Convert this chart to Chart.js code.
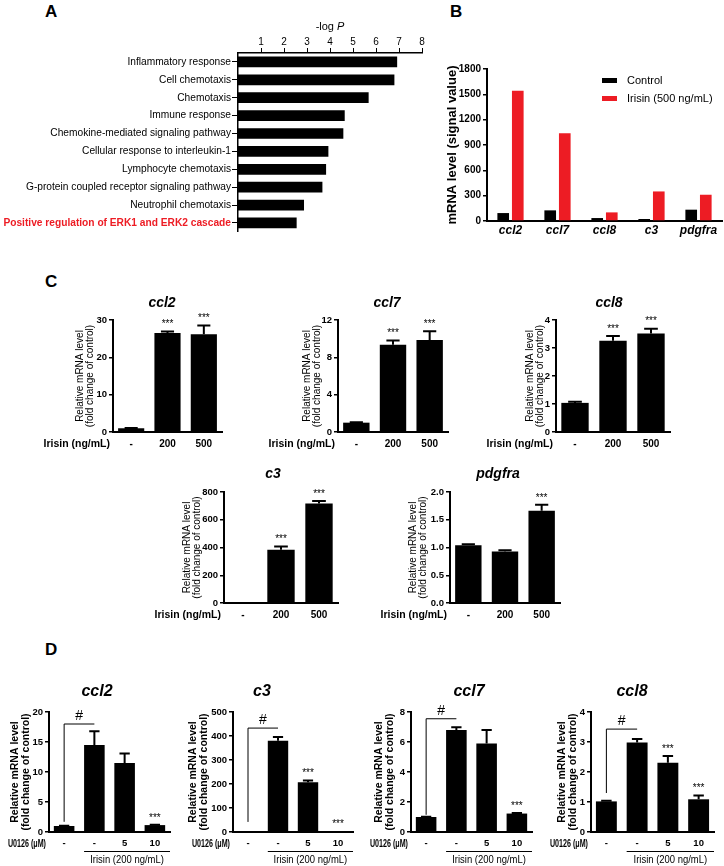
<!DOCTYPE html>
<html>
<head>
<meta charset="utf-8">
<script src="https://cdn.jsdelivr.net/npm/chart.js@4.4.1/dist/chart.umd.min.js"></script>
<style>
  html, body { margin: 0; padding: 0; background: #fff; }
  #fig { position: relative; width: 724px; height: 866px; overflow: hidden; font-family: "Liberation Sans", Arial, sans-serif; }
  #fig canvas { position: absolute; }
  .panel { position: absolute; font-weight: bold; font-size: 17px; line-height: 1; color: #000; }
</style>
</head>
<body>
<div id="fig">
  <div class="panel" style="left:45px;top:3px">A</div>
  <div class="panel" style="left:450px;top:3px">B</div>
  <div class="panel" style="left:45px;top:273px">C</div>
  <div class="panel" style="left:45px;top:641px">D</div>
</div>
<script>
// Panel A - enriched GO terms
const goTerms = [
  "Inflammatory response",
  "Cell chemotaxis",
  "Chemotaxis",
  "Immune response",
  "Chemokine-mediated signaling pathway",
  "Cellular response to interleukin-1",
  "Lymphocyte chemotaxis",
  "G-protein coupled receptor signaling pathway",
  "Neutrophil chemotaxis",
  "Positive regulation of ERK1 and ERK2 cascade"
];
const goLogP = [6.92, 6.8, 5.68, 4.64, 4.58, 3.93, 3.83, 3.67, 2.87, 2.55];

// Panel B - microarray signal
const arrayGenes = ["ccl2", "ccl7", "ccl8", "c3", "pdgfra"];
const signalControl = [94, 126, 35, 24, 134];
const signalIrisin = [1543, 1039, 102, 350, 311];

// Panel C - irisin dose
const doseLabels = ["-", "200", "500"];
const ccl2Dose = [1.0, 26.5, 26.2];
const ccl2DoseSem = [0.1, 0.4, 2.3];
const ccl7Dose = [1.0, 9.35, 9.85];
const ccl7DoseSem = [0.05, 0.45, 0.95];
const ccl8Dose = [1.04, 3.26, 3.52];
const ccl8DoseSem = [0.04, 0.17, 0.17];
const c3Dose = [3, 383, 718];
const c3DoseSem = [0, 24, 17];
const pdgfraDose = [1.04, 0.93, 1.66];
const pdgfraDoseSem = [0.02, 0.02, 0.11];
const doseSig = ["", "***", "***"];
const pdgfraDoseSig = ["", "", "***"];

// Panel D - U0126 inhibition
const u0126Labels = ["-", "-", "5", "10"];
const ccl2U = [1.0, 14.5, 11.5, 1.15];
const ccl2USem = [0.05, 2.3, 1.6, 0.05];
const c3U = [2, 380, 207, 3];
const c3USem = [0, 16, 8, 0];
const ccl7U = [1.0, 6.8, 5.9, 1.23];
const ccl7USem = [0.02, 0.18, 0.9, 0.04];
const ccl8U = [1.02, 2.98, 2.31, 1.09];
const ccl8USem = [0.02, 0.12, 0.22, 0.13];
const ccl2USig = ["", "", "", "***"];
const c3USig = ["", "", "***", "***"];
const ccl7USig = ["", "", "", "***"];
const ccl8USig = ["", "", "***", "***"];
const ccl2UBracket = [1.7, 18];
const c3UBracket = [42, 433];
const ccl7UBracket = [1.15, 7.55];
const ccl8UBracket = [1.3, 3.43];

const FONT = '"Liberation Sans", Arial, Helvetica, sans-serif';
const RED = "#ed1c24";
const fig = document.getElementById("fig");

// narrow labels: no condensed font installed, so squeeze horizontally
function squeezeText(ctx, text, x, y, sx) {
  ctx.save();
  ctx.translate(x, y);
  ctx.scale(sx, 1);
  ctx.fillText(text, 0, 0);
  ctx.restore();
}

// extra marks: titles, error bars, stars, brackets, row labels, legend
const figMarks = {
  id: "figMarks",
  afterDraw(chart, args, o) {
    const ctx = chart.ctx;
    const area = chart.chartArea;
    const ox = o.ox || 0;
    const oy = o.oy || 0;
    ctx.save();
    ctx.fillStyle = "#000";
    ctx.strokeStyle = "#000";

    if (o.title) {
      ctx.font = o.title.font;
      ctx.textAlign = "center";
      ctx.textBaseline = "middle";
      ctx.fillText(o.title.text, o.title.x - ox, o.title.y - oy);
    }

    if (o.logP) {
      ctx.textBaseline = "middle";
      ctx.textAlign = "left";
      ctx.font = `11px ${FONT}`;
      const w1 = ctx.measureText("-log ").width;
      ctx.font = `italic 11px ${FONT}`;
      const w2 = ctx.measureText("P").width;
      const x0 = o.logP.x - ox - (w1 + w2) / 2;
      ctx.font = `11px ${FONT}`;
      ctx.fillText("-log ", x0, o.logP.y - oy);
      ctx.font = `italic 11px ${FONT}`;
      ctx.fillText("P", x0 + w1, o.logP.y - oy);
    }

    if (o.legend) {
      ctx.font = `11px ${FONT}`;
      ctx.textAlign = "left";
      ctx.textBaseline = "middle";
      chart.data.datasets.forEach((ds, i) => {
        const y = o.legend.y + i * o.legend.dy - oy;
        ctx.fillStyle = ds.backgroundColor;
        ctx.fillRect(o.legend.x - ox, y - 2.5, 15, 5);
        ctx.fillStyle = "#000";
        ctx.fillText(ds.label, o.legend.x - ox + 25, y);
      });
    }

    const meta = chart.getDatasetMeta(0);
    const ys = chart.scales.y;
    const vals = chart.data.datasets[0].data;

    if (o.sem) {
      ctx.lineWidth = 2;
      o.sem.forEach((s, i) => {
        if (!s) return;
        const bar = meta.data[i];
        const top = ys.getPixelForValue(vals[i] + s);
        const half = bar.width * 0.25;
        ctx.beginPath();
        ctx.moveTo(bar.x, bar.y);
        ctx.lineTo(bar.x, top);
        ctx.moveTo(bar.x - half, top);
        ctx.lineTo(bar.x + half, top);
        ctx.stroke();
      });
    }

    if (o.sig) {
      ctx.font = `10px ${FONT}`;
      ctx.textAlign = "center";
      ctx.textBaseline = "bottom";
      o.sig.forEach((t, i) => {
        if (!t) return;
        const top = ys.getPixelForValue(vals[i] + ((o.sem && o.sem[i]) || 0));
        ctx.fillText(t, meta.data[i].x, top - 2);
      });
    }

    if (o.bracket) {
      const x0 = meta.data[0].x;
      const x1 = meta.data[1].x;
      const yb = ys.getPixelForValue(o.bracket[0]);
      const yt = ys.getPixelForValue(o.bracket[1]);
      ctx.lineWidth = 1;
      ctx.beginPath();
      ctx.moveTo(x0, yb);
      ctx.lineTo(x0, yt);
      ctx.lineTo(x1, yt);
      ctx.stroke();
      ctx.font = `14px ${FONT}`;
      ctx.textAlign = "center";
      ctx.textBaseline = "middle";
      ctx.fillText("#", (x0 + x1) / 2, yt - 8);
    }

    if (o.rowLabel) {
      ctx.font = o.rowLabel.font;
      ctx.textAlign = "right";
      ctx.textBaseline = "middle";
      squeezeText(ctx, o.rowLabel.text, area.left - 3, area.bottom + 12, o.rowLabel.sx || 1);
    }

    if (o.group) {
      const b1 = meta.data[1];
      const xa = b1.x - b1.width / 2;
      const xb = area.right;
      ctx.lineWidth = 1;
      ctx.beginPath();
      ctx.moveTo(xa, area.bottom + 19.5);
      ctx.lineTo(xb, area.bottom + 19.5);
      ctx.stroke();
      ctx.font = o.group.font;
      ctx.textAlign = "center";
      ctx.textBaseline = "middle";
      squeezeText(ctx, o.group.text, (xa + xb) / 2, area.bottom + 28, o.group.sx || 1);
    }
    ctx.restore();
  }
};
Chart.register(figMarks);

function addCanvas(left, top, w, h) {
  const cv = document.createElement("canvas");
  cv.width = w;
  cv.height = h;
  cv.style.left = left + "px";
  cv.style.top = top + "px";
  cv.style.width = w + "px";
  cv.style.height = h + "px";
  fig.appendChild(cv);
  return cv;
}

function barPanel(p) {
  const m = p.m;
  const left = p.area.l - m.l;
  const top = p.area.t - m.t;
  const w = p.area.r - p.area.l + m.l + m.r;
  const h = p.area.b - p.area.t + m.t + m.b;
  const yt = p.yTitle;
  const lhPx = yt.size * yt.lh;
  return new Chart(addCanvas(left, top, w, h), {
    type: "bar",
    data: { labels: p.labels, datasets: p.datasets },
    options: {
      responsive: false,
      animation: false,
      devicePixelRatio: 1,
      events: [],
      layout: { padding: { top: m.t, right: m.r, bottom: 0, left: 0 } },
      plugins: {
        legend: { display: false },
        tooltip: { enabled: false },
        figMarks: Object.assign({ ox: left, oy: top }, p.marks)
      },
      scales: {
        x: {
          afterFit: (s) => { s.height = m.b; },
          grid: { display: false, drawTicks: false, tickLength: 0 },
          border: { display: true, color: "#000", width: 2 },
          ticks: { padding: p.xPad, color: "#000", font: p.xFont, autoSkip: false, maxRotation: 0 }
        },
        y: {
          min: 0,
          max: p.max,
          afterFit: (s) => { s.width = m.l; },
          ticks: {
            stepSize: p.step,
            padding: 2,
            color: "#000",
            font: p.yFont,
            callback: p.fmt || ((v) => v)
          },
          grid: { drawOnChartArea: false, tickLength: 4, color: "#000", lineWidth: 1.5 },
          border: { display: true, color: "#000", width: 2 },
          title: {
            display: true,
            text: yt.text,
            color: "#000",
            font: { family: FONT, size: yt.size, weight: yt.bold ? "bold" : "normal", lineHeight: yt.lh },
            padding: { top: m.l + yt.off - lhPx / 2, bottom: 0 }
          }
        }
      }
    }
  });
}

// ---------- A ----------
new Chart(addCanvas(0, 0, 430, 239), {
  type: "bar",
  data: {
    labels: goTerms,
    datasets: [{ data: goLogP, backgroundColor: "#000", barPercentage: 0.6, categoryPercentage: 1 }]
  },
  options: {
    indexAxis: "y",
    responsive: false,
    animation: false,
    devicePixelRatio: 1,
    events: [],
    layout: { padding: { top: 0, right: 8, bottom: 2, left: 0 } },
    plugins: {
      legend: { display: false },
      tooltip: { enabled: false },
      figMarks: { logP: { x: 330, y: 27 } }
    },
    scales: {
      x: {
        position: "top",
        min: 0,
        max: 8,
        afterFit: (s) => { s.height = 53; },
        afterBuildTicks: (s) => { s.ticks = s.ticks.filter((t) => t.value > 0); },
        ticks: { stepSize: 1, padding: 0, color: "#000", font: { family: FONT, size: 10 } },
        grid: { drawOnChartArea: false, tickLength: 5, color: "#000", lineWidth: 1 },
        border: { display: true, color: "#000", width: 1.5 }
      },
      y: {
        afterFit: (s) => { s.width = 238; },
        ticks: {
          autoSkip: false,
          padding: 1,
          color: (c) => (c.index === goTerms.length - 1 ? RED : "#000"),
          font: (c) => ({ family: FONT, size: 10.2, weight: c.index === goTerms.length - 1 ? "bold" : "normal" })
        },
        grid: { offset: false, drawOnChartArea: false, tickLength: 6, color: "#000", lineWidth: 1 },
        border: { display: true, color: "#000", width: 1.5 }
      }
    }
  }
});

// ---------- B ----------
barPanel({
  area: { l: 487, t: 69, r: 722, b: 221 },
  m: { l: 47, t: 10, r: 2, b: 22 },
  labels: arrayGenes,
  datasets: [
    { label: "Control", data: signalControl, backgroundColor: "#000", categoryPercentage: 0.62, barPercentage: 0.8 },
    { label: "Irisin (500 ng/mL)", data: signalIrisin, backgroundColor: RED, categoryPercentage: 0.62, barPercentage: 0.8 }
  ],
  max: 1800,
  step: 300,
  xPad: 2,
  xFont: { family: FONT, size: 12, weight: "bold", style: "italic" },
  yFont: { family: FONT, size: 10, weight: "bold" },
  yTitle: { text: "mRNA level (signal value)", size: 13, bold: true, lh: 1.2, off: -35 },
  marks: { legend: { x: 602, y: 80.5, dy: 18 } }
});

// ---------- C ----------
const cTitleFont = `italic bold 14px ${FONT}`;
const cRow = { text: "Irisin (ng/mL)", font: `bold 10.5px ${FONT}`, sx: 1 };
const cYTitle = ["Relative mRNA level", "(fold change of control)"];
const cPanels = [
  { area: { l: 113, t: 320, r: 222, b: 432 }, gene: "ccl2", tx: 162, ty: 303, vals: ccl2Dose, sem: ccl2DoseSem, sig: doseSig, max: 30, step: 10, off: -33 },
  { area: { l: 338, t: 320, r: 448, b: 432 }, gene: "ccl7", tx: 387, ty: 303, vals: ccl7Dose, sem: ccl7DoseSem, sig: doseSig, max: 12, step: 4, off: -31 },
  { area: { l: 556, t: 320, r: 670, b: 432 }, gene: "ccl8", tx: 609, ty: 303, vals: ccl8Dose, sem: ccl8DoseSem, sig: doseSig, max: 4, step: 1, off: -26 },
  { area: { l: 224, t: 492, r: 338, b: 603 }, gene: "c3", tx: 273, ty: 474, vals: c3Dose, sem: c3DoseSem, sig: doseSig, max: 800, step: 200, off: -37 },
  { area: { l: 450, t: 492, r: 560, b: 603 }, gene: "pdgfra", tx: 498, ty: 474, vals: pdgfraDose, sem: pdgfraDoseSem, sig: pdgfraDoseSig, max: 2, step: 0.5, off: -37, fmt: (v) => v.toFixed(1) }
];
cPanels.forEach((c) => {
  barPanel({
    area: c.area,
    m: { l: 78, t: 30, r: 6, b: 22 },
    labels: doseLabels,
    datasets: [{ data: c.vals, backgroundColor: "#000", categoryPercentage: 1, barPercentage: 0.72 }],
    max: c.max,
    step: c.step,
    fmt: c.fmt,
    xPad: 6,
    xFont: { family: FONT, size: 10, weight: "bold" },
    yFont: { family: FONT, size: 9.5, weight: "bold" },
    yTitle: { text: cYTitle, size: 10, bold: false, lh: 1.05, off: c.off },
    marks: {
      title: { text: c.gene, x: c.tx, y: c.ty, font: cTitleFont },
      sem: c.sem,
      sig: c.sig,
      rowLabel: cRow
    }
  });
});

// ---------- D ----------
const dTitleFont = `italic bold 16px ${FONT}`;
const dRow = { text: "U0126 (\u03bcM)", font: `bold 10.5px ${FONT}`, sx: 0.68 };
const dGroup = { text: "Irisin (200 ng/mL)", font: `11px ${FONT}`, sx: 0.86 };
const dPanels = [
  { area: { l: 49, t: 712, r: 170, b: 832 }, gene: "ccl2", tx: 97, vals: ccl2U, sem: ccl2USem, sig: ccl2USig, bracket: ccl2UBracket, max: 20, step: 5, off: -34 },
  { area: { l: 233, t: 712, r: 353, b: 832 }, gene: "c3", tx: 262, vals: c3U, sem: c3USem, sig: c3USig, bracket: c3UBracket, max: 500, step: 100, off: -40 },
  { area: { l: 411, t: 712, r: 532, b: 832 }, gene: "ccl7", tx: 469, vals: ccl7U, sem: ccl7USem, sig: ccl7USig, bracket: ccl7UBracket, max: 8, step: 2, off: -32 },
  { area: { l: 591, t: 712, r: 714, b: 832 }, gene: "ccl8", tx: 632, vals: ccl8U, sem: ccl8USem, sig: ccl8USig, bracket: ccl8UBracket, max: 4, step: 1, off: -29 }
];
dPanels.forEach((d) => {
  barPanel({
    area: d.area,
    m: { l: 49, t: 32, r: 6, b: 34 },
    labels: u0126Labels,
    datasets: [{ data: d.vals, backgroundColor: "#000", categoryPercentage: 1, barPercentage: 0.68 }],
    max: d.max,
    step: d.step,
    xPad: 6,
    xFont: { family: FONT, size: 9.5, weight: "bold" },
    yFont: { family: FONT, size: 9.5, weight: "bold" },
    yTitle: { text: cYTitle, size: 10.5, bold: true, lh: 1.1, off: d.off },
    marks: {
      title: { text: d.gene, x: d.tx, y: 692, font: dTitleFont },
      sem: d.sem,
      sig: d.sig,
      bracket: d.bracket,
      rowLabel: dRow,
      group: dGroup
    }
  });
});
</script>
</body>
</html>
